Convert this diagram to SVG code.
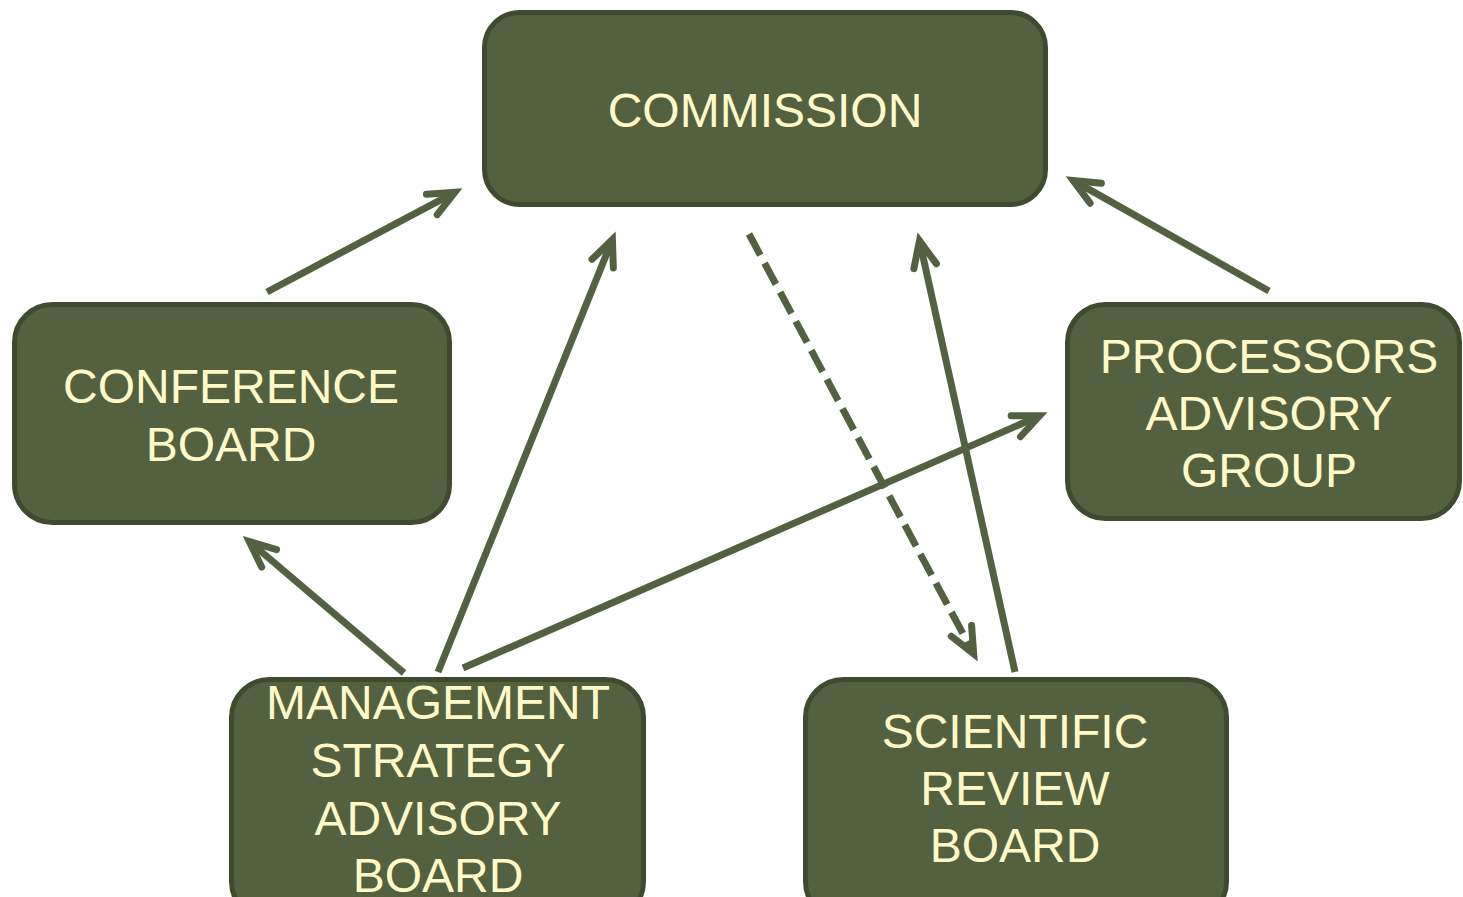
<svg xmlns="http://www.w3.org/2000/svg" width="1463" height="897" viewBox="0 0 1463 897">
  <style>
    .box { fill: #546141; stroke: #3f4a2e; stroke-width: 5; }
    .label { fill: #fff9c9; font-family: "Liberation Sans", Arial, sans-serif; font-size: 48px; text-anchor: middle; }
    .link { stroke: #546141; stroke-width: 7; fill: none; stroke-linecap: butt; }
    .dashed { stroke-dasharray: 24 9; }
  </style>
  <defs>
    <marker id="head" markerUnits="userSpaceOnUse" viewBox="-40 -20 60 40" refX="0" refY="0" markerWidth="60" markerHeight="40" orient="auto" overflow="visible">
      <path d="M-26,-11.5 L0,0 L-26,11.5" fill="none" stroke="#546141" stroke-width="7" stroke-linecap="round" stroke-linejoin="miter" stroke-dasharray="none"/>
    </marker>
  </defs>

  <g id="connectors">
    <line class="link" x1="267" y1="292" x2="454.8" y2="192.3" marker-end="url(#head)"/>
    <line class="link" x1="1269" y1="291" x2="1073.1" y2="180.4" marker-end="url(#head)"/>
    <line class="link" x1="438" y1="672" x2="612.4" y2="239.5" marker-end="url(#head)"/>
    <line class="link" x1="404" y1="673" x2="249.3" y2="541.5" marker-end="url(#head)"/>
    <line class="link" x1="463" y1="668" x2="1039.6" y2="415.8" marker-end="url(#head)"/>
    <line class="link" x1="1015" y1="672" x2="919.5" y2="240.8" marker-end="url(#head)"/>
    <line class="link dashed" x1="749" y1="234" x2="973.7" y2="653.8" marker-end="url(#head)"/>
  </g>

  <g id="commission">
    <rect class="box" x="484.5" y="12.5" width="561" height="192" rx="35"/>
    <text class="label" x="765" y="127">COMMISSION</text>
  </g>

  <g id="conference-board">
    <rect class="box" x="14.5" y="304.5" width="435" height="218" rx="38"/>
    <text class="label" x="231" y="403">CONFERENCE</text>
    <text class="label" x="231" y="461">BOARD</text>
  </g>

  <g id="processors-advisory-group">
    <rect class="box" x="1067.5" y="304.5" width="392" height="214" rx="38"/>
    <text class="label" x="1269" y="373">PROCESSORS</text>
    <text class="label" x="1269" y="430">ADVISORY</text>
    <text class="label" x="1269" y="487">GROUP</text>
  </g>

  <g id="management-strategy-advisory-board">
    <rect class="box" x="231.5" y="679.5" width="412" height="240" rx="38"/>
    <text class="label" x="438" y="719">MANAGEMENT</text>
    <text class="label" x="438" y="777">STRATEGY</text>
    <text class="label" x="438" y="835">ADVISORY</text>
    <text class="label" x="438" y="892">BOARD</text>
  </g>

  <g id="scientific-review-board">
    <rect class="box" x="805.5" y="679.5" width="421" height="240" rx="38"/>
    <text class="label" x="1015" y="748">SCIENTIFIC</text>
    <text class="label" x="1015" y="805">REVIEW</text>
    <text class="label" x="1015" y="862">BOARD</text>
  </g>
</svg>
